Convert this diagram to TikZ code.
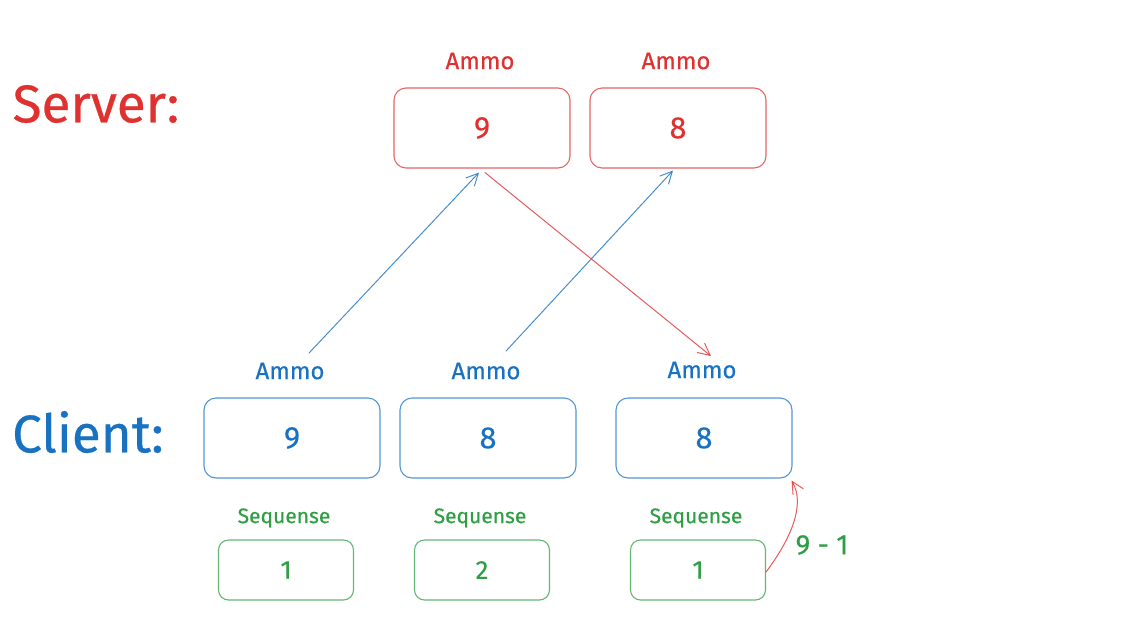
\documentclass[tikz,border=0pt]{standalone}
\usepackage{fontspec}
\setmainfont{Fira Sans}[FakeBold=0.5]
\usetikzlibrary{arrows.meta,positioning}
\definecolor{srvred}{HTML}{E03131}
\definecolor{cliblue}{HTML}{1971C2}
\definecolor{seqgreen}{HTML}{2F9E44}

\begin{document}
\begin{tikzpicture}[x=1pt,y=-1pt,line cap=round,line join=round,
  ammobox/.style={draw,draw opacity=0.75,line width=1.1pt,rounded corners=12pt,minimum width=176pt,minimum height=80pt,font=\fontsize{31}{33}\selectfont},
  seqbox/.style={draw,draw opacity=0.75,line width=1.1pt,rounded corners=10pt,minimum width=135pt,minimum height=60pt,font=\fontsize{26}{28}\selectfont},
  ammolbl/.style={font=\fontsize{24}{26}\selectfont},
  seqlbl/.style={font=\fontsize{21}{23}\selectfont},
  side/.style={font=\fontsize{53}{55}\selectfont},
  link/.style={line width=1pt,draw opacity=0.8,-{Straight Barb[length=12pt,width=12pt]}}]
\useasboundingbox (0,0) rectangle (1129,630);

% server side
\node[side,text=srvred] (srv) at (96,104) {Server:};
\node[ammolbl,text=srvred] (sa1) at (480,61) {Ammo};
\node[ammolbl,text=srvred] (sa2) at (676,61) {Ammo};
\node[ammobox,draw=srvred,text=srvred] (s9) at (482,128) {9};
\node[ammobox,draw=srvred,text=srvred] (s8) at (678,128) {8};

% client side
\node[side,text=cliblue] (cli) at (88,432) {Client:};
\node[ammolbl,text=cliblue] (ca1) at (290,371) {Ammo};
\node[ammolbl,text=cliblue] (ca2) at (486,371) {Ammo};
\node[ammolbl,text=cliblue] (ca3) at (702,370) {Ammo};
\node[ammobox,draw=cliblue,text=cliblue] (c1) at (292,438) {9};
\node[ammobox,draw=cliblue,text=cliblue] (c2) at (488,438) {8};
\node[ammobox,draw=cliblue,text=cliblue] (c3) at (704,438) {8};

% sequence numbers
\node[seqlbl,text=seqgreen] (ql1) at (284,518) {Sequense};
\node[seqlbl,text=seqgreen] (ql2) at (480,518) {Sequense};
\node[seqlbl,text=seqgreen] (ql3) at (696,518) {Sequense};
\node[seqbox,draw=seqgreen,text=seqgreen] (q1) at (286,570) {1};
\node[seqbox,draw=seqgreen,text=seqgreen] (q2) at (482,570) {2};
\node[seqbox,draw=seqgreen,text=seqgreen] (q3) at (698,570) {1};
\node[ammolbl,text=seqgreen,font=\fontsize{28}{30}\selectfont] (fix) at (822,545) {9 - 1};

% messages
\draw[link,cliblue] ([xshift=19pt,yshift=6pt]ca1.north) -- ([xshift=-3pt,yshift=-4pt]s9.south);
\draw[link,cliblue] ([xshift=20pt,yshift=8pt]ca2.north) -- ([xshift=-5pt,yshift=-2pt]s8.south);
\draw[link,srvred] ([xshift=3pt,yshift=-4pt]s9.south) -- ([xshift=9pt,yshift=2pt]ca3.north);
\draw[link,srvred] ([yshift=-2pt]q3.east) .. controls (790,540) and (806,505) .. ([xshift=-1pt,yshift=-2pt]c3.south east);

\end{tikzpicture}
\end{document}
